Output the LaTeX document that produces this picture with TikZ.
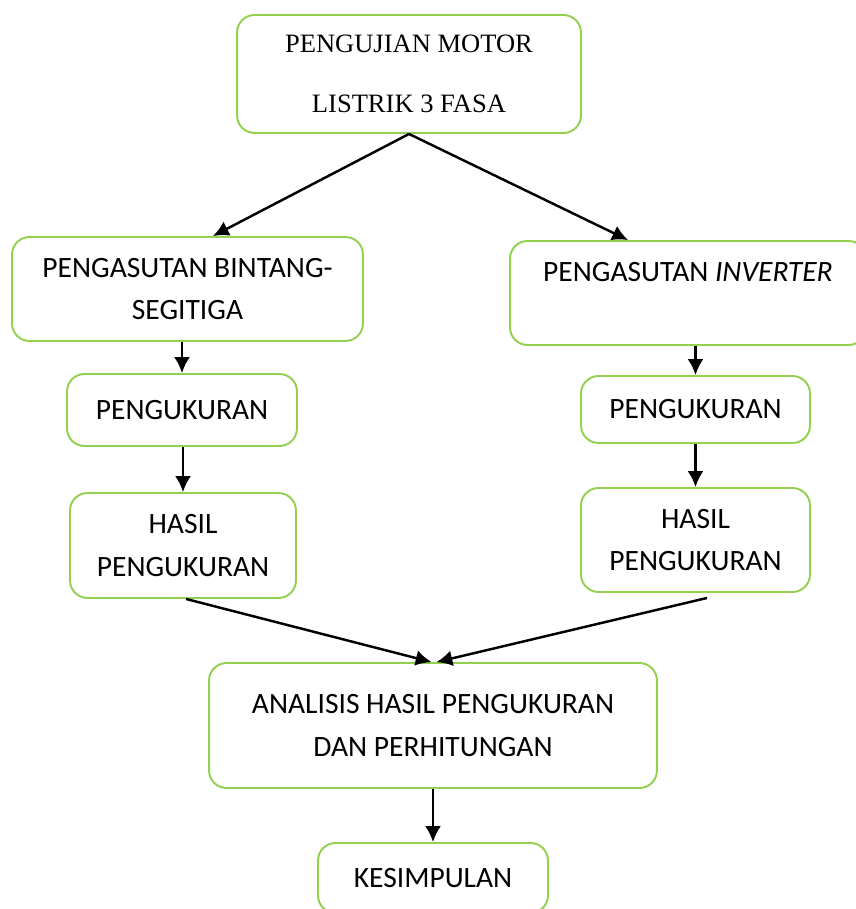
\documentclass[tikz,border=0pt]{standalone}
\usepackage{fontspec}
\setmainfont{Liberation Serif}
\newfontfamily\calibri{Carlito}
\usetikzlibrary{arrows.meta}
\definecolor{hijau}{RGB}{146,208,80}

\begin{document}
\begin{tikzpicture}[x=0.02cm, y=-0.02cm,
    kotak/.style={draw=hijau, line width=1.1pt, rounded corners=0.35cm, align=center, inner sep=0pt},
    teks/.style={font=\calibri\fontsize{16.8}{24.4}\selectfont},
    panah/.style={-{Latex[length=9pt,width=9pt]}, line width=1.4pt}]

   \useasboundingbox (0,0) rectangle (855,909);

   \node[kotak, minimum width=6.88cm, minimum height=2.36cm, font=\fontsize{15.1}{34}\selectfont] (uji) at (409,74) {PENGUJIAN MOTOR\\LISTRIK 3 FASA};

   \node[kotak, teks, minimum width=7.02cm, minimum height=2.08cm] (bintang) at (187.5,289) {PENGASUTAN BINTANG-\\SEGITIGA};
   \node[kotak, teks, minimum width=7.12cm, minimum height=2.08cm] (inverter) at (688,293) {PENGASUTAN \textit{INVERTER}\\ ~};

   \node[kotak, teks, minimum width=4.6cm, minimum height=1.44cm] (ukurA) at (182,410) {PENGUKURAN};
   \node[kotak, teks, minimum width=4.58cm, minimum height=1.34cm] (ukurB) at (695.5,409.5) {PENGUKURAN};

   \node[kotak, teks, minimum width=4.52cm, minimum height=2.1cm] (hasilA) at (183,545.5) {HASIL\\PENGUKURAN};
   \node[kotak, teks, minimum width=4.58cm, minimum height=2.08cm] (hasilB) at (695.5,540) {HASIL\\PENGUKURAN};

   \node[kotak, teks, minimum width=8.96cm, minimum height=2.5cm] (analisis) at (433,725.5) {ANALISIS HASIL PENGUKURAN\\DAN PERHITUNGAN};

   \node[kotak, teks, minimum width=4.6cm, minimum height=1.4cm] (simpul) at (433,878) {KESIMPULAN};

   \draw[panah] (uji.south) -- ([xshift=0.51cm]bintang.north);
   \draw[panah] (uji.south) -- ([xshift=-1.2cm]inverter.north);
   \draw[panah] (bintang.south -| ukurA.north) -- (ukurA.north);
   \draw[panah] (inverter.south -| ukurB.north) -- (ukurB.north);
   \draw[panah] (ukurA.south -| hasilA.north) -- (hasilA.north);
   \draw[panah] (ukurB.south) -- (hasilB.north);
   \draw[panah] ([xshift=0.06cm]hasilA.south) -- ([xshift=-0.03cm]analisis.north);
   \draw[panah] ([xshift=0.23cm,yshift=-0.1cm]hasilB.south) -- ([xshift=0.07cm]analisis.north);
   \draw[panah] (analisis.south) -- (simpul.north);

\end{tikzpicture}
\end{document}
